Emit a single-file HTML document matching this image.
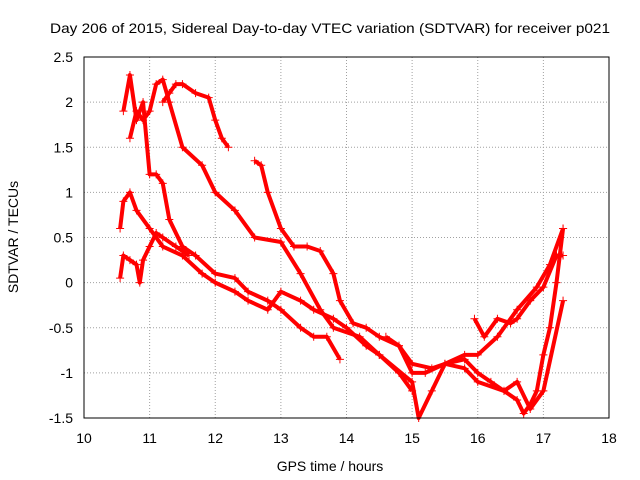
<!DOCTYPE html>
<html><head><meta charset="utf-8"><style>
body{margin:0;background:#fff}
svg{display:block;font-family:"Liberation Sans",sans-serif}
</style></head><body>
<svg id="c" width="640" height="480">
<rect width="640" height="480" fill="#fff"/>
<text x="330" y="33" font-size="14" text-anchor="middle" textLength="560" lengthAdjust="spacingAndGlyphs">Day 206 of 2015, Sidereal Day-to-day VTEC variation (SDTVAR) for receiver p021</text>
<text x="330" y="471" font-size="14" text-anchor="middle">GPS time / hours</text>
<text transform="translate(18,237) rotate(-90)" font-size="14" text-anchor="middle">SDTVAR / TECUs</text>
<g id="grid"></g><g id="ticks"></g><g id="series"></g>
<rect x="84" y="57" width="525" height="361" fill="none" stroke="#000"/>
</svg>
<script>
const xTicks=[10,11,12,13,14,15,16,17,18];
const yTicks=[2.5,2,1.5,1,0.5,0,-0.5,-1,-1.5];
const yTickLabels=["2.5","2","1.5","1","0.5","0","-0.5","-1","-1.5"];
const trace1X=[10.6,10.7,10.8,10.9,11.0,11.1,11.2,11.3,11.5,11.7,12.0,12.3,12.5,12.8,13.0,13.3,13.5,13.7,13.9];
const trace1Y=[1.9,2.3,1.8,2.0,1.2,1.2,1.1,0.7,0.4,0.3,0.1,0.05,-0.1,-0.2,-0.3,-0.5,-0.6,-0.6,-0.85];
const trace2X=[11.2,11.3,11.4,11.5,11.7,11.9,12.0,12.1,12.2];
const trace2Y=[2.0,2.1,2.2,2.2,2.1,2.05,1.8,1.6,1.5];
const trace3X=[12.6,12.7,12.8,13.0,13.2,13.4,13.6,13.8,13.9,14.1,14.3,14.5,14.8,15.0,15.2,15.5,15.8,16.0,16.3,16.6,16.9,17.1,17.3];
const trace3Y=[1.35,1.3,1.0,0.6,0.4,0.4,0.35,0.1,-0.2,-0.45,-0.5,-0.6,-0.7,-1.0,-1.0,-0.9,-0.8,-0.8,-0.6,-0.3,-0.05,0.2,0.6];
const trace4X=[10.7,10.8,10.9,11.0,11.1,11.2,11.3,11.5,11.8,12.0,12.3,12.6,13.0,13.3,13.6,13.8,14.2,14.5,15.0,15.1,15.3,15.5,15.8,16.0,16.4,16.6,16.8,17.0,17.3];
const trace4Y=[1.6,1.9,1.8,1.9,2.2,2.25,2.0,1.5,1.3,1.0,0.8,0.5,0.45,0.1,-0.3,-0.5,-0.6,-0.8,-1.1,-1.5,-1.2,-0.9,-0.95,-1.1,-1.2,-1.1,-1.4,-1.2,-0.2];
const trace5X=[10.55,10.6,10.7,10.8,11.0,11.2,11.5,11.8,12.0,12.3,12.5,12.8,13.0,13.3,13.5,13.8,14.0,14.3,14.5,14.8,15.0];
const trace5Y=[0.6,0.9,1.0,0.8,0.6,0.4,0.3,0.1,0.0,-0.1,-0.2,-0.3,-0.1,-0.2,-0.3,-0.4,-0.5,-0.7,-0.8,-1.0,-1.2];
const trace6X=[10.55,10.6,10.7,10.8,10.85,10.9,11.0,11.1,11.2,11.4,11.6];
const trace6Y=[0.05,0.3,0.25,0.2,0.0,0.25,0.4,0.55,0.5,0.4,0.3];
const trace7X=[15.95,16.1,16.3,16.5,16.6,16.8,17.0,17.2,17.3];
const trace7Y=[-0.4,-0.6,-0.4,-0.45,-0.4,-0.2,-0.05,0.3,0.3];
const trace8X=[14.6,14.8,15.0,15.3,15.5,15.8,16.0,16.2,16.4,16.6,16.7,16.8,16.9,17.0,17.1,17.2,17.3];
const trace8Y=[-0.6,-0.7,-0.9,-0.95,-0.9,-0.85,-1.0,-1.1,-1.2,-1.3,-1.45,-1.35,-1.2,-0.8,-0.5,0.0,0.6];
const traces=[[trace1X,trace1Y],[trace2X,trace2Y],[trace3X,trace3Y],[trace4X,trace4Y],[trace5X,trace5Y],[trace6X,trace6Y],[trace7X,trace7Y],[trace8X,trace8Y]];
const NS="http://www.w3.org/2000/svg";
const X=v=>84+(v-10)*525/8, Y=v=>418-(v+1.5)*361/4;
function mk(t,a,p){const e=document.createElementNS(NS,t);for(const k in a)e.setAttribute(k,a[k]);p.appendChild(e);return e;}
const g=document.getElementById('grid'),tk=document.getElementById('ticks'),s=document.getElementById('series');
xTicks.forEach(v=>{
 const l=mk('line',{x1:X(v),x2:X(v),y1:57,y2:418,stroke:'#a0a0a0','stroke-dasharray':'1,2'},g);
 
 
 const t=mk('text',{x:X(v),y:443,'font-size':14,'text-anchor':'middle'},tk);t.textContent=v;
 
 
});
yTicks.forEach((v,i)=>{
 const l=mk('line',{x1:84,x2:609,y1:Y(v),y2:Y(v),stroke:'#a0a0a0','stroke-dasharray':'1,2'},g);
 
 
 const t=mk('text',{x:73,y:Y(v)+5,'font-size':14,'text-anchor':'end'},tk);t.textContent=yTickLabels[i];
 
 
});
traces.forEach(([xs,ys],k)=>{
 const pts=xs.map((x,i)=>X(x)+','+Y(ys[i])).join(' ');
 const pl=mk('polyline',{points:pts,fill:'none',stroke:'#f00','stroke-width':4,'stroke-linejoin':'round'},s);
 
 
 xs.forEach((x,i)=>{
  const px=X(x),py=Y(ys[i]);
  const m=mk('path',{d:`M${px-4},${py}h8M${px},${py-4}v8`,stroke:'#f00','stroke-width':1},s);
  
  
 });
});
</script>
</body></html>
